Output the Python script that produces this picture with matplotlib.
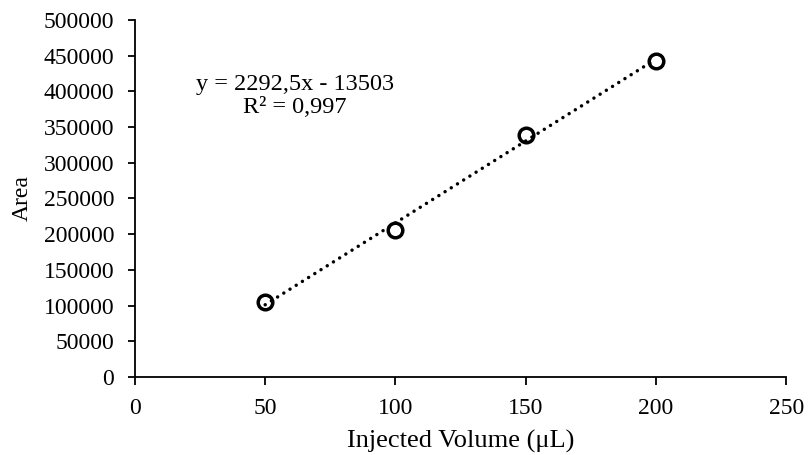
import matplotlib.pyplot as plt
import numpy as np

# calibration: injected volume vs peak area
volume = [50, 100, 150, 200]
area = [104600, 206300, 338900, 442500]
x_ticks = [0, 50, 100, 150, 200, 250]
y_ticks = list(range(0, 500001, 50000))
eq_text = "y = 2292,5x - 13503\nR² = 0,997"

plt.rcParams["font.family"] = ["Liberation Serif", "DejaVu Serif"]
plt.rcParams["font.size"] = 17

fig = plt.figure(figsize=(8.08, 4.55), dpi=100)
ax = fig.add_axes([0.167, 0.1714, 0.806, 0.785])

# linear trendline over the measured range
coef = np.polyfit(volume, area, 1)
xs = np.array([volume[0], volume[-1]])
ax.plot(xs, np.polyval(coef, xs), color="black", lw=2.5,
        linestyle=(0, (0.01, 2.1)), dash_capstyle="round", zorder=2)

ax.plot(volume, area, "o", ms=10.5, mfc="none", mec="black", mew=2.5, zorder=3)

ax.text(61.5, 393000, eq_text, ha="center", va="center",
        multialignment="center", fontsize=17.5, linespacing=1.12)

ax.set_xlim(0, 250)
ax.set_ylim(0, 500000)
ax.set_xticks(x_ticks)
ax.set_yticks(y_ticks)
ax.set_xticklabels([str(v) for v in x_ticks])
ax.set_yticklabels([str(v) for v in y_ticks])

for side in ["top", "right"]:
    ax.spines[side].set_visible(False)
for side in ["left", "bottom"]:
    ax.spines[side].set_linewidth(1.3)
ax.tick_params(direction="out", length=5, width=1.3)
ax.tick_params(axis="y", pad=10)
ax.tick_params(axis="x", pad=9, length=6)

ax.set_xlabel("Injected Volume (μL)", fontsize=19, labelpad=8)
ax.set_ylabel("Area", fontsize=17, labelpad=8)

fig.savefig("out.png", dpi=100)
